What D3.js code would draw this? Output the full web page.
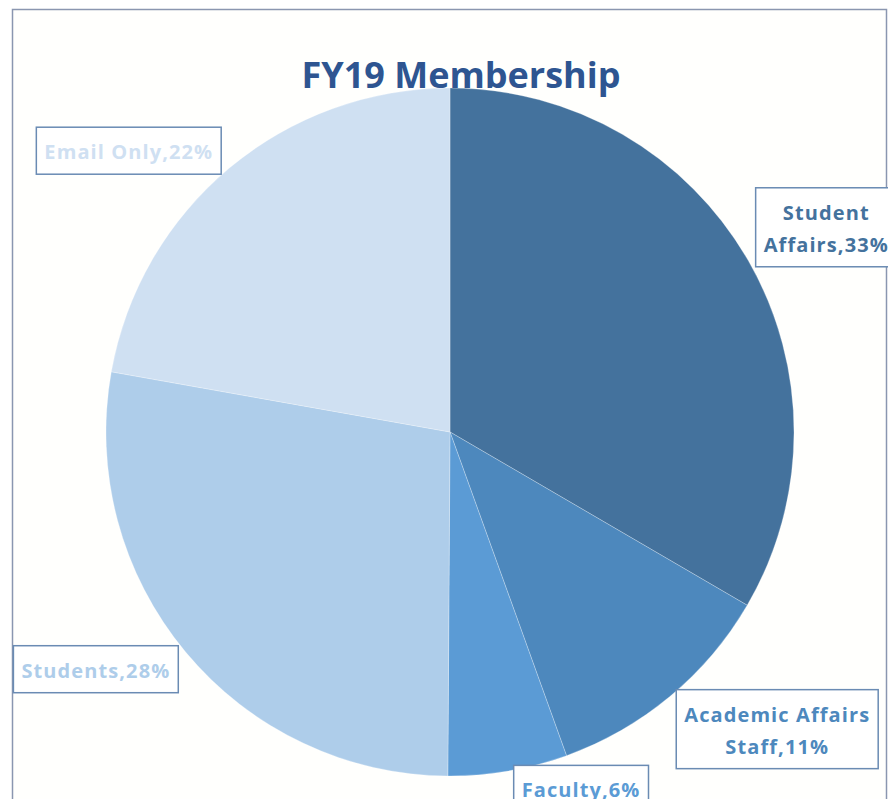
<!DOCTYPE html>
<html>
<head>
<meta charset="utf-8">
<script src="https://cdn.jsdelivr.net/npm/d3@7"></script>
<style>
  body { margin: 0; background: #fff; }
  svg text { font-family: "Open Sans", Lato, sans-serif; font-weight: bold; }
</style>
</head>
<body>
<div id="chart"></div>
<script>
// membership shares (percent), clockwise from 12 o'clock
const categories = ["Student Affairs", "Academic Affairs Staff", "Faculty", "Students", "Email Only"];
const shares = [33.4, 11.1, 5.6, 27.7, 22.2];
// how each data label is broken across lines (percent goes on the last line)
const labelLines = [["Student", "Affairs"], ["Academic Affairs", "Staff"], ["Faculty"], ["Students"], ["Email Only"]];
const sliceColors = ["#44729d", "#4d88bd", "#5b9bd5", "#aecdea", "#cfe0f2"];
const title = "FY19 Membership";

const width = 888, height = 799;
const cx = 450, cy = 432, radius = 344;
const labelRadius = 427;
// Excel moved the labels off the plain outer arc, nudge them back in place
const labelNudge = [[6, 8], [54, -31], [59, -64], [-26, -36], [-47, 46]];

const data = categories.map((c, i) => ({ name: c, share: shares[i], lines: labelLines[i], color: sliceColors[i] }));

const svg = d3.select("#chart")
  .append("svg")
  .attr("width", width)
  .attr("height", height);

// chart frame
svg.append("rect")
  .attr("x", 12.5)
  .attr("y", 9.5)
  .attr("width", 874)
  .attr("height", 820)
  .attr("fill", "#fffffd")
  .attr("stroke", "#8a96b0")
  .attr("stroke-width", 1.5);

const pie = d3.pie().sort(null).value(d => d.share);
const arcs = pie(data);
const total = d3.sum(shares);

const arc = d3.arc().innerRadius(0).outerRadius(radius);
const labelArc = d3.arc().innerRadius(labelRadius).outerRadius(labelRadius);

const g = svg.append("g").attr("transform", `translate(${cx},${cy})`);

g.selectAll("path.slice")
  .data(arcs)
  .enter().append("path")
  .attr("class", "slice")
  .attr("d", arc)
  .attr("fill", d => d.data.color)
  .attr("stroke", "#ffffff")
  .attr("stroke-opacity", 0.35)
  .attr("stroke-width", 0.75);

// title sits on top of the pie
svg.append("text")
  .attr("x", 461)
  .attr("y", 88)
  .attr("text-anchor", "middle")
  .attr("fill", "#2e5591")
  .style("font-size", "36px")
  .text(title);

const lineGap = 32;

const labels = g.selectAll("g.label")
  .data(arcs)
  .enter().append("g")
  .attr("class", "label")
  .attr("transform", (d, i) => {
    const [x, y] = labelArc.centroid(d);
    return `translate(${x + labelNudge[i][0]},${y + labelNudge[i][1]})`;
  });

labels.each(function(d) {
  const lab = d3.select(this);
  const pct = Math.round(d.data.share / total * 100) + "%";
  const lines = d.data.lines.slice();
  lines[lines.length - 1] = lines[lines.length - 1] + "," + pct;
  const n = lines.length;
  const boxH = 47 + (n - 1) * lineGap;
  const firstBase = -boxH / 2 + 32;

  const box = lab.append("rect")
    .attr("fill", "#ffffff")
    .attr("stroke", "#6a8bb3")
    .attr("stroke-width", 1.5);

  const txt = lab.append("text")
    .attr("text-anchor", "middle")
    .attr("fill", d.data.color)
    .style("font-size", "20px")
    .style("letter-spacing", "1.1px");

  lines.forEach((l, k) => {
    txt.append("tspan")
      .attr("x", 0)
      .attr("y", firstBase + k * lineGap)
      .text(l);
  });

  const w = txt.node().getBBox().width + 16;
  box.attr("x", -w / 2)
    .attr("y", -boxH / 2)
    .attr("width", w)
    .attr("height", boxH);
});
</script>
</body>
</html>
